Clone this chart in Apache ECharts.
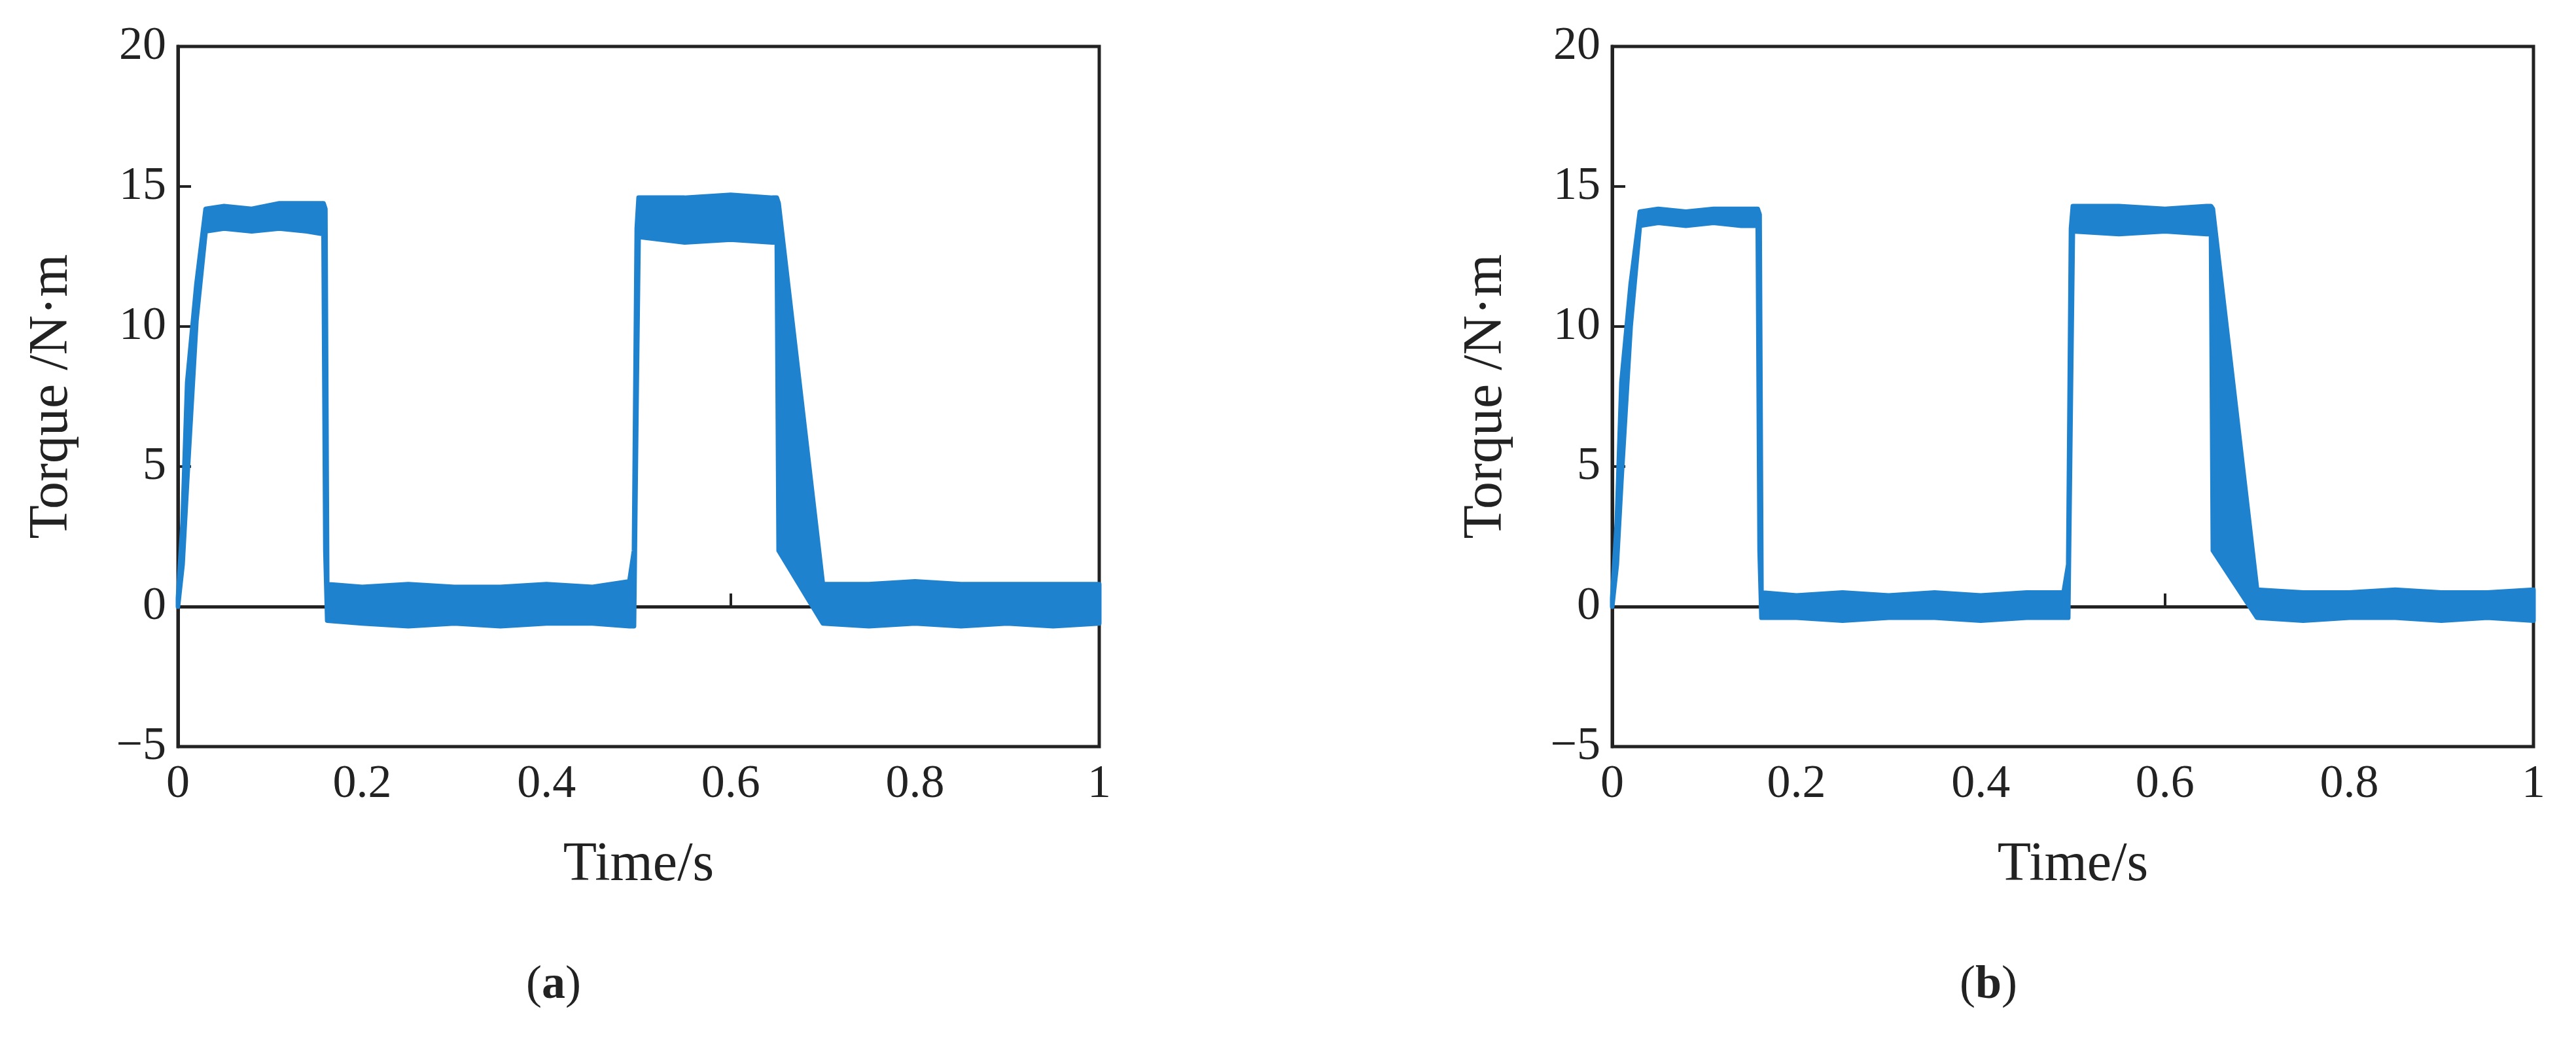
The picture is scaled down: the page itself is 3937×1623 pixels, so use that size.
<!DOCTYPE html>
<html><head><meta charset="utf-8">
<script src="https://cdn.jsdelivr.net/npm/echarts@6/dist/echarts.min.js"></script>
<style>html,body{margin:0;background:#fff}#c{width:3937px;height:1623px}</style>
</head><body><div id="c"></div>
<script>
const xTicks = [0,0.2,0.4,0.6,0.8,1];
const yTicks = [-5,0,5,10,15,20];
// envelope points (time, lower, upper)
const timeA  = [0,0.005,0.01,0.02,0.03,0.05,0.08,0.11,0.14,0.158,0.16,0.162,0.2,0.25,0.3,0.35,0.4,0.45,0.49,0.495,0.498,0.5,0.55,0.6,0.645,0.65,0.652,0.7,0.75,0.8,0.85,0.9,0.95,1];
const lowA   = [0,1.5,4.5,10.2,13.4,13.5,13.4,13.5,13.4,13.3,2,-0.5,-0.6,-0.7,-0.6,-0.7,-0.6,-0.6,-0.7,-0.7,8,13.2,13.0,13.1,13.0,13.0,2,-0.6,-0.7,-0.6,-0.7,-0.6,-0.7,-0.6];
const highA  = [0.3,3,8,11.5,14.2,14.3,14.2,14.4,14.4,14.4,14.2,0.8,0.7,0.8,0.7,0.7,0.8,0.7,0.9,2,13.5,14.6,14.6,14.7,14.6,14.6,14.4,0.8,0.8,0.9,0.8,0.8,0.8,0.8];
const timeB  = [0,0.005,0.01,0.02,0.03,0.05,0.08,0.11,0.14,0.158,0.16,0.162,0.2,0.25,0.3,0.35,0.4,0.45,0.49,0.495,0.498,0.5,0.55,0.6,0.645,0.65,0.652,0.7,0.75,0.8,0.85,0.9,0.95,1];
const lowB   = [0,1.5,4.5,10.0,13.6,13.7,13.6,13.7,13.6,13.6,2,-0.4,-0.4,-0.5,-0.4,-0.4,-0.5,-0.4,-0.4,-0.4,8,13.4,13.3,13.4,13.3,13.3,2,-0.4,-0.5,-0.4,-0.4,-0.5,-0.4,-0.5];
const highB  = [0.3,3,8,11.5,14.1,14.2,14.1,14.2,14.2,14.2,14.0,0.5,0.4,0.5,0.4,0.5,0.4,0.5,0.5,1.5,13.5,14.3,14.3,14.2,14.3,14.3,14.2,0.6,0.5,0.5,0.6,0.5,0.5,0.6];

const blue = '#1f82cf';
const font = 'Liberation Serif';
const grids = [0,1].map(i=>({left:i?2464:272,width:1408,top:71,height:1070,show:true,borderColor:'#222',borderWidth:5,backgroundColor:'transparent'}));
function xa(i){return {type:'value',gridIndex:i,min:0,max:1,interval:0.2,name:'Time/s',nameLocation:'middle',nameGap:140,
  nameTextStyle:{fontFamily:font,fontSize:84,color:'#222'},
  axisLine:{lineStyle:{color:'#222',width:5}},axisTick:{inside:true,length:20,lineStyle:{color:'#222',width:4}},
  axisLabel:{fontFamily:font,fontSize:72,color:'#222',margin:22,formatter:v=>String(+v.toFixed(1))},splitLine:{show:false}};}
function ya(i){return {type:'value',gridIndex:i,min:-5,max:20,interval:5,name:'Torque /N\u00b7m',nameLocation:'middle',nameGap:150,
  nameTextStyle:{fontFamily:font,fontSize:84,color:'#222'},
  axisLine:{lineStyle:{color:'#222',width:5}},axisTick:{inside:true,length:20,lineStyle:{color:'#222',width:4}},
  axisLabel:{fontFamily:font,fontSize:72,color:'#222',margin:18,formatter:v=>v<0?'\u2212'+(-v):String(v)},splitLine:{show:false}};}
function band(t,lo,hi,i){
  return {type:'custom',xAxisIndex:i,yAxisIndex:i,data:[[0,0]],
    renderItem:(params,api)=>{
      const pts=[];
      t.forEach((x,k)=>pts.push(api.coord([x,hi[k]])));
      for(let k=t.length-1;k>=0;k--)pts.push(api.coord([t[k],lo[k]]));
      return {type:'polygon',shape:{points:pts},style:{fill:blue,stroke:blue,lineWidth:7,lineJoin:'round'}};
    }};
}
const chart = echarts.init(document.getElementById('c'));
chart.setOption({
  animation:false,backgroundColor:'#fff',
  grid:grids,
  xAxis:[xa(0),xa(1)],
  yAxis:[ya(0),ya(1)],
  series:[band(timeA,lowA,highA,0),band(timeB,lowB,highB,1)],
  graphic:[
    {type:'text',left:849-45,top:1470,style:{rich:{n:{fontFamily:font,fontSize:72,fill:'#222'},b:{fontFamily:font,fontSize:72,fontWeight:'bold',fill:'#222'}},text:'{n|(}{b|a}{n|)}'}},
    {type:'text',left:3040-45,top:1470,style:{rich:{n:{fontFamily:font,fontSize:72,fill:'#222'},b:{fontFamily:font,fontSize:72,fontWeight:'bold',fill:'#222'}},text:'{n|(}{b|b}{n|)}'}}
  ]
});
</script></body></html>
